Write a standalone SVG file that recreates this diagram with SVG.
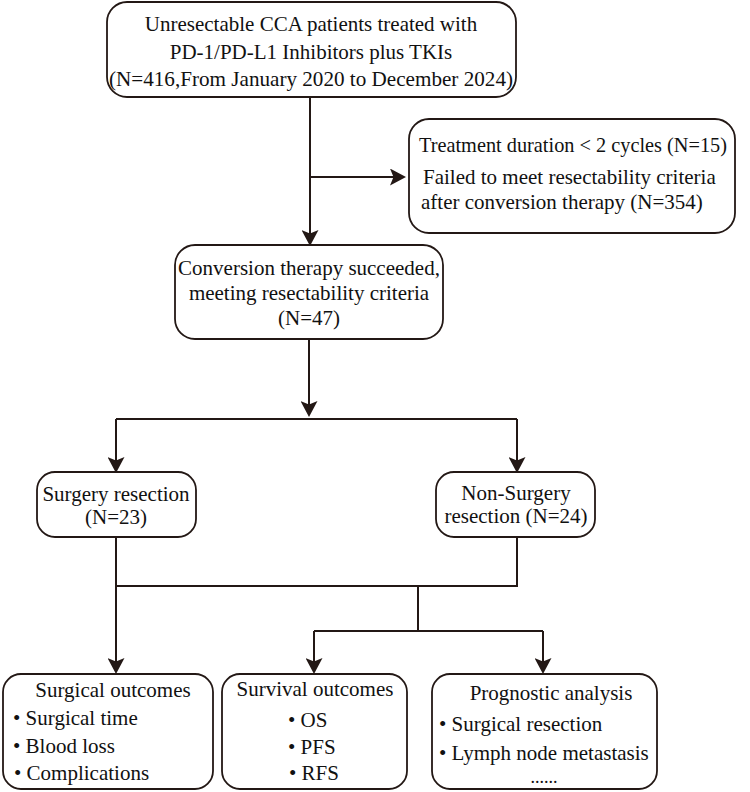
<svg xmlns="http://www.w3.org/2000/svg" width="750" height="792" viewBox="0 0 750 792">
<defs>
<marker id="arr" markerUnits="userSpaceOnUse" markerWidth="17" markerHeight="17" refX="9" refY="8.5" orient="auto">
<path d="M0,0 L16,8.5 L0,17 L3.5,8.5 z" fill="#231815"/>
</marker>
<style>
.box{fill:#fff;stroke:#231815;stroke-width:1.8}
.t{font-family:"Liberation Serif","Times New Roman",serif;font-size:21px;fill:#111}
.c{text-anchor:middle}
.ln{fill:none;stroke:#231815;stroke-width:2}
.a{marker-end:url(#arr)}
</style>
</defs>
<rect width="750" height="792" fill="#fff"/>
<g id="connectors">
<line class="ln a" x1="310" y1="97" x2="310" y2="239"/>
<line class="ln a" x1="310" y1="177" x2="399" y2="177"/>
<line class="ln a" x1="309" y1="339" x2="309" y2="410"/>
<line class="ln" x1="116" y1="419" x2="517" y2="419"/>
<line class="ln a" x1="116" y1="419" x2="116" y2="466"/>
<line class="ln a" x1="517" y1="419" x2="517" y2="466"/>
<line class="ln a" x1="116" y1="537" x2="116" y2="667"/>
<polyline class="ln" points="517,537 517,586 116,586"/>
<line class="ln" x1="418" y1="586" x2="418" y2="631"/>
<line class="ln" x1="314" y1="631" x2="543" y2="631"/>
<line class="ln a" x1="314" y1="631" x2="314" y2="667"/>
<line class="ln a" x1="543" y1="631" x2="543" y2="667"/>
</g>
<g id="start">
<rect class="box" x="107" y="2" width="409" height="95" rx="20"/>
<text class="t c" x="311" y="31">Unresectable CCA patients treated with</text>
<text class="t c" x="311" y="59">PD-1/PD-L1 Inhibitors plus TKIs</text>
<text class="t c" x="311" y="86" textLength="404" lengthAdjust="spacingAndGlyphs">(N=416,From January 2020 to December 2024)</text>
</g>
<g id="excluded">
<rect class="box" x="409" y="119" width="326" height="114" rx="20"/>
<text class="t" x="419" y="152" textLength="308" lengthAdjust="spacingAndGlyphs">Treatment duration &lt; 2 cycles (N=15)</text>
<text class="t" x="423" y="184">Failed to meet resectability criteria</text>
<text class="t" x="421" y="209">after conversion therapy (N=354)</text>
</g>
<g id="conversion">
<rect class="box" x="175" y="245" width="268" height="94" rx="20"/>
<text class="t c" x="309" y="275">Conversion therapy succeeded,</text>
<text class="t c" x="309" y="300">meeting resectability criteria</text>
<text class="t c" x="309" y="325">(N=47)</text>
</g>
<g id="surgery">
<rect class="box" x="37" y="472" width="159" height="65" rx="18"/>
<text class="t c" x="116" y="501">Surgery resection</text>
<text class="t c" x="116" y="524">(N=23)</text>
</g>
<g id="nonsurgery">
<rect class="box" x="436" y="472" width="159" height="65" rx="18"/>
<text class="t c" x="516" y="500">Non-Surgery</text>
<text class="t c" x="516" y="523">resection (N=24)</text>
</g>
<g id="surgical-outcomes">
<rect class="box" x="3" y="674" width="210" height="115" rx="18"/>
<text class="t c" x="113" y="697">Surgical outcomes</text>
<text class="t" x="13" y="725">• Surgical time</text>
<text class="t" x="13" y="753">• Blood loss</text>
<text class="t" x="14" y="780">• Complications</text>
</g>
<g id="survival-outcomes">
<rect class="box" x="222" y="674" width="185" height="115" rx="18"/>
<text class="t c" x="315" y="696">Survival outcomes</text>
<text class="t" x="288" y="727">• OS</text>
<text class="t" x="288" y="754">• PFS</text>
<text class="t" x="289" y="780">• RFS</text>
</g>
<g id="prognostic">
<rect class="box" x="432" y="674" width="225" height="115" rx="18"/>
<text class="t c" x="551" y="700">Prognostic analysis</text>
<text class="t" x="439" y="731">• Surgical resection</text>
<text class="t" x="439" y="760">• Lymph node metastasis</text>
<text class="t c" x="544" y="783" style="font-size:18px">......</text>
</g>
</svg>
